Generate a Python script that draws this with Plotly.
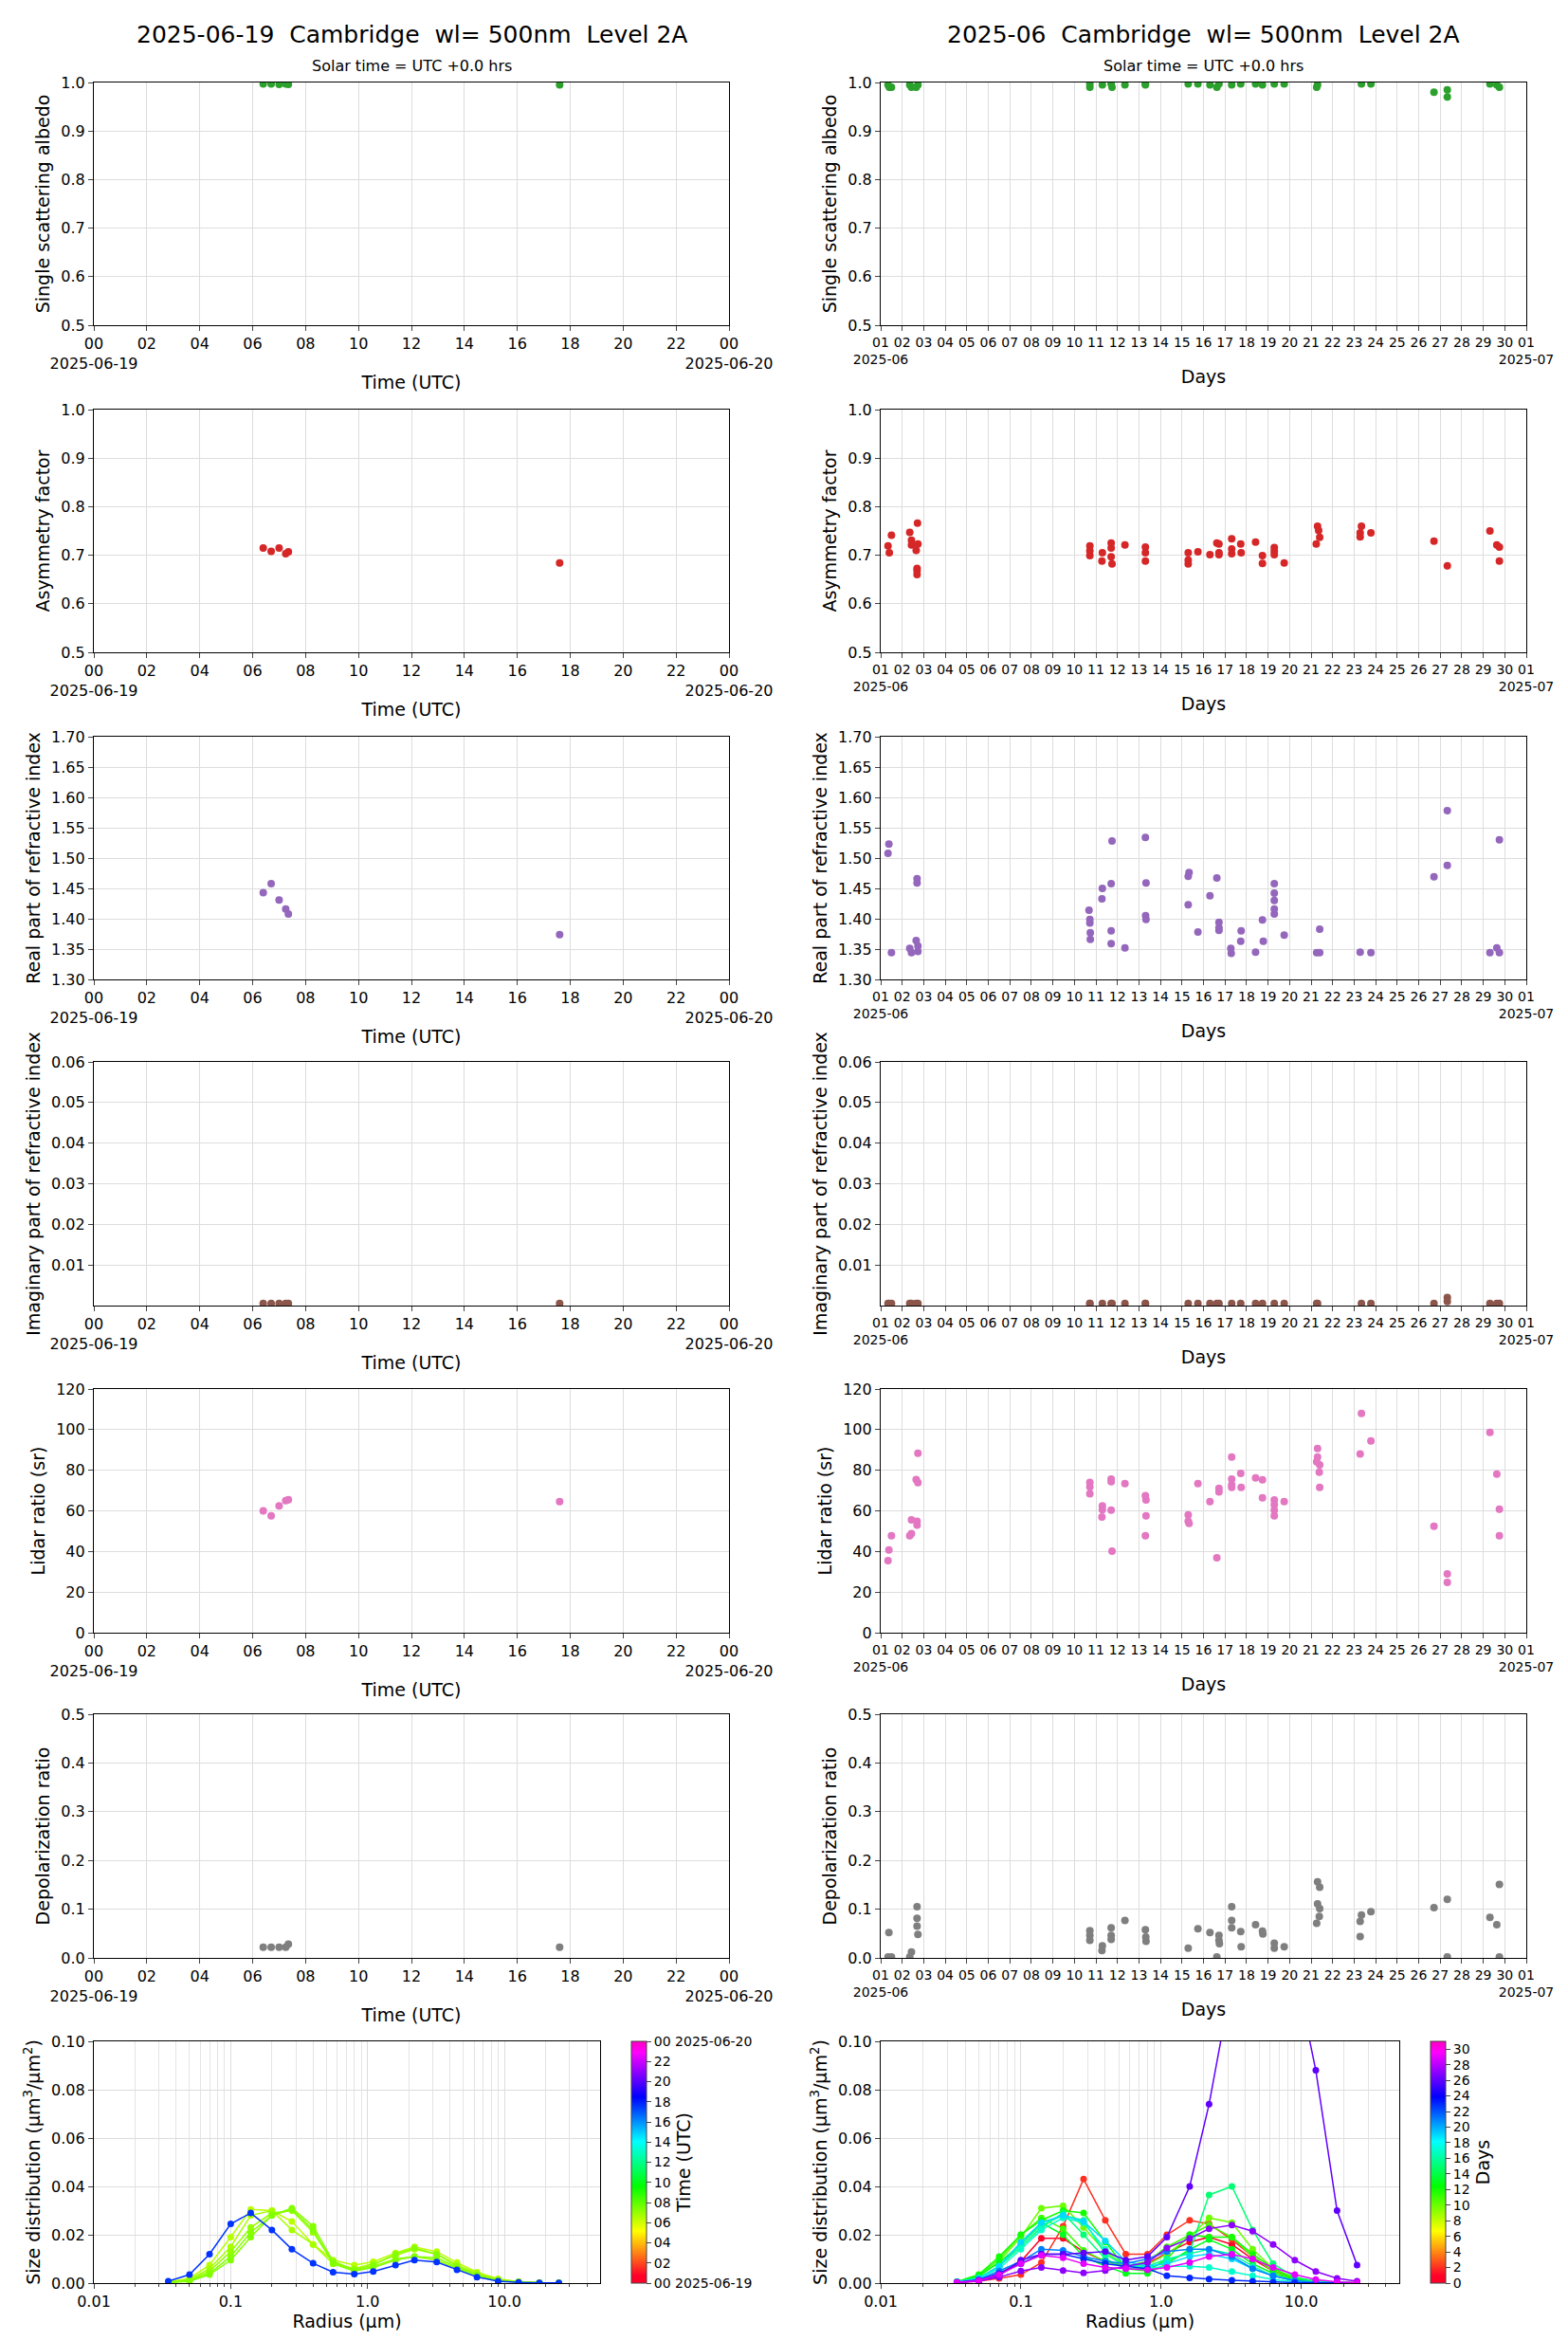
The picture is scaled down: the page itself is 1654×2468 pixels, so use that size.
import plotly.graph_objects as go
from plotly.subplots import make_subplots
from plotly.colors import sample_colorscale
import pandas as pd

W, H = 1654, 2468

# ---------------- data: single day (2025-06-19), hours UTC ----------------
L_hours = [6.4, 6.7, 7.0, 7.25, 7.35, 17.6]
L_albedo = [0.997, 0.997, 0.996, 0.997, 0.996, 0.995]
L_asym = [0.715, 0.708, 0.715, 0.703, 0.707, 0.684]
L_real = [1.443, 1.458, 1.431, 1.416, 1.408, 1.374]
L_imag = [0.0005, 0.0005, 0.0005, 0.0005, 0.0005, 0.0005]
L_lidar = [60.0, 57.5, 62.5, 65.0, 65.5, 64.5]
L_depol = [0.022, 0.022, 0.022, 0.022, 0.028, 0.022]

# ---------------- data: month (2025-06), fractional day of month ----------------
A_days = [1.34, 1.40, 1.50, 2.35, 2.43, 2.65, 2.73, 10.72, 10.72, 11.30, 11.71, 11.75, 12.35, 13.30, 13.30,
          15.29, 15.74, 16.30, 16.62, 16.72, 17.31, 17.73, 18.42, 18.74, 19.29, 19.75, 21.30, 21.26, 23.34,
          23.78, 26.71, 27.33, 27.33, 29.31, 29.63, 29.75]
A_albedo = [0.995, 0.99, 0.99, 0.995, 0.99, 0.99, 0.995, 0.99, 0.997, 0.995, 0.997, 0.99, 0.995, 0.995, 0.997,
            0.997, 0.997, 0.995, 0.99, 0.997, 0.995, 0.997, 0.997, 0.995, 0.997, 0.997, 0.995, 0.99, 0.997,
            0.997, 0.98, 0.985, 0.97, 0.997, 0.995, 0.99]
A_imag = [0.0005, 0.0005, 0.0005, 0.0005, 0.0005, 0.0005, 0.0005, 0.0005, 0.0005, 0.0005, 0.0005, 0.0005,
          0.0005, 0.0005, 0.0005, 0.0005, 0.0005, 0.0005, 0.0005, 0.0005, 0.0005, 0.0005, 0.0005, 0.0005,
          0.0005, 0.0005, 0.0005, 0.0005, 0.0005, 0.0005, 0.0005, 0.002, 0.001, 0.0005, 0.0005, 0.0005]

G_days = [1.34, 1.40, 1.50, 2.35, 2.43, 2.43, 2.65, 2.73, 2.71, 2.69, 2.69, 2.69, 10.72, 10.72, 10.72, 11.30,
          11.28, 11.71, 11.71, 11.71, 11.75, 12.35, 13.30, 13.30, 13.30, 15.29, 15.29, 15.29, 15.74, 16.30,
          16.62, 16.72, 16.72, 16.72, 17.31, 17.31, 17.31, 17.73, 17.75, 18.42, 18.74, 18.74, 19.29, 19.29,
          19.29, 19.75, 21.30, 21.35, 21.40, 21.24, 23.34, 23.28, 23.28, 23.78, 26.71, 27.33, 29.31, 29.63,
          29.75, 29.75]
G_asym = [0.719, 0.705, 0.741, 0.747, 0.731, 0.721, 0.710, 0.723, 0.766, 0.673, 0.668, 0.660, 0.719, 0.709,
          0.699, 0.705, 0.688, 0.725, 0.715, 0.697, 0.682, 0.721, 0.717, 0.705, 0.688, 0.705, 0.690, 0.682,
          0.707, 0.701, 0.725, 0.723, 0.705, 0.701, 0.734, 0.713, 0.703, 0.723, 0.705, 0.727, 0.699, 0.683,
          0.716, 0.708, 0.701, 0.684, 0.760, 0.751, 0.737, 0.723, 0.760, 0.746, 0.738, 0.746, 0.729, 0.678,
          0.750, 0.721, 0.717, 0.688]

R_days = [1.34, 1.38, 1.50, 2.35, 2.43, 2.65, 2.73, 2.73, 2.69, 2.69, 10.68, 10.72, 10.72, 10.74, 10.74,
          11.30, 11.28, 11.71, 11.75, 11.71, 11.71, 12.35, 13.30, 13.33, 13.31, 13.33, 15.29, 15.33, 15.29,
          15.74, 16.30, 16.62, 16.72, 16.72, 16.72, 17.27, 17.29, 17.75, 17.73, 18.42, 18.74, 18.78, 19.29,
          19.29, 19.29, 19.29, 19.29, 19.75, 21.40, 21.26, 21.40, 23.28, 23.78, 26.71, 27.33, 27.33, 29.31,
          29.63, 29.75, 29.75]
R_real = [1.508, 1.523, 1.344, 1.351, 1.344, 1.364, 1.355, 1.346, 1.466, 1.459, 1.414, 1.399, 1.393, 1.377,
          1.366, 1.450, 1.433, 1.458, 1.528, 1.380, 1.359, 1.352, 1.534, 1.459, 1.405, 1.399, 1.470, 1.476,
          1.423, 1.378, 1.438, 1.467, 1.394, 1.385, 1.381, 1.351, 1.343, 1.380, 1.363, 1.345, 1.398, 1.363,
          1.458, 1.442, 1.430, 1.416, 1.408, 1.373, 1.383, 1.344, 1.344, 1.345, 1.344, 1.469, 1.488, 1.578,
          1.344, 1.352, 1.344, 1.530]

S_days = [1.34, 1.38, 1.50, 2.35, 2.43, 2.43, 2.69, 2.69, 2.65, 2.73, 2.73, 10.72, 10.72, 10.72, 11.30, 11.30,
          11.28, 11.71, 11.71, 11.71, 11.75, 12.35, 13.30, 13.33, 13.33, 13.30, 15.29, 15.29, 15.33, 15.74,
          16.30, 16.62, 16.72, 16.72, 17.31, 17.31, 17.31, 17.31, 17.73, 17.75, 18.42, 18.74, 18.74, 19.29,
          19.29, 19.29, 19.29, 19.75, 21.30, 21.30, 21.26, 21.40, 21.38, 21.40, 23.28, 23.34, 23.78, 26.71,
          27.33, 27.33, 29.31, 29.63, 29.75, 29.75]
S_lidar = [35.5, 40.7, 47.7, 47.7, 48.8, 55.6, 54.9, 53.0, 75.4, 73.9, 88.4, 74.0, 71.8, 68.4, 62.5, 60.6,
           57.0, 75.7, 74.3, 60.3, 40.2, 73.4, 67.5, 65.4, 57.5, 47.7, 58.0, 54.9, 53.8, 73.4, 64.5, 36.9,
           71.1, 69.3, 86.5, 75.7, 72.8, 71.5, 78.5, 71.5, 76.2, 75.3, 66.4, 65.4, 63.0, 60.3, 57.5, 64.5,
           90.7, 86.5, 84.2, 82.6, 79.0, 71.5, 88.0, 108.0, 94.4, 52.4, 29.0, 24.8, 98.6, 78.1, 60.8, 47.7]

D_days = [1.38, 1.34, 1.50, 2.35, 2.43, 2.69, 2.69, 2.69, 2.73, 10.72, 10.72, 10.72, 11.30, 11.28, 11.71,
          11.71, 11.71, 12.35, 13.30, 13.32, 13.33, 15.29, 15.74, 16.30, 16.62, 16.72, 16.72, 16.74, 17.31,
          17.31, 17.31, 17.73, 17.75, 18.42, 18.74, 18.76, 19.29, 19.29, 19.75, 21.30, 21.40, 21.30, 21.40,
          21.38, 21.26, 23.34, 23.28, 23.28, 23.78, 26.71, 27.33, 27.33, 29.31, 29.63, 29.75, 29.75]
D_depol = [0.052, 0.002, 0.002, 0.002, 0.012, 0.105, 0.081, 0.065, 0.048, 0.056, 0.046, 0.036, 0.025, 0.015,
           0.062, 0.046, 0.038, 0.077, 0.058, 0.043, 0.034, 0.020, 0.060, 0.052, 0.002, 0.046, 0.036, 0.029,
           0.105, 0.077, 0.062, 0.054, 0.023, 0.068, 0.055, 0.049, 0.030, 0.020, 0.023, 0.156, 0.145, 0.111,
           0.101, 0.085, 0.071, 0.088, 0.075, 0.044, 0.095, 0.103, 0.120, 0.002, 0.083, 0.068, 0.151, 0.002]

# ---------------- size distributions ----------------
radius = [0.035, 0.05, 0.07, 0.1, 0.14, 0.2, 0.28, 0.4, 0.56, 0.8, 1.1, 1.6, 2.2, 3.2, 4.5, 6.3, 9.0,
          12.7, 18.0, 25.0]
L_sd_hours = [6.4, 6.7, 7.0, 7.25, 7.35, 17.6]
L_sd = [
    [0.0005, 0.002, 0.0075, 0.019, 0.0305, 0.030, 0.0255, 0.016, 0.0095, 0.0075, 0.0088, 0.0125, 0.015, 0.013, 0.0085, 0.0045, 0.0018, 0.0006, 0.0002, 0.0001],
    [0.0004, 0.0015, 0.006, 0.015, 0.028, 0.030, 0.022, 0.016, 0.008, 0.006, 0.008, 0.0115, 0.014, 0.012, 0.0075, 0.004, 0.0015, 0.0005, 0.0002, 0.0001],
    [0.0003, 0.0012, 0.005, 0.013, 0.023, 0.029, 0.030, 0.021, 0.0085, 0.005, 0.007, 0.010, 0.011, 0.0095, 0.006, 0.003, 0.001, 0.0004, 0.0001, 0.0001],
    [0.0003, 0.001, 0.004, 0.011, 0.021, 0.028, 0.031, 0.0235, 0.009, 0.0055, 0.0075, 0.012, 0.0145, 0.012, 0.007, 0.0035, 0.0013, 0.0005, 0.0002, 0.0001],
    [0.0002, 0.0008, 0.0035, 0.0095, 0.019, 0.028, 0.0305, 0.022, 0.008, 0.005, 0.0065, 0.0095, 0.011, 0.0105, 0.0065, 0.003, 0.001, 0.0004, 0.0001, 0.0001],
    [0.0008, 0.0035, 0.012, 0.0245, 0.029, 0.022, 0.014, 0.0082, 0.0045, 0.0037, 0.0048, 0.0075, 0.0095, 0.0087, 0.0055, 0.0025, 0.0008, 0.0003, 0.0001, 0.0001],
]
R_sd_days = [1, 2, 10, 11, 12, 13, 15, 16, 17, 19, 21, 23, 26, 27, 29]
R_sd = [
    [0.0003, 0.001, 0.004, 0.009, 0.0185, 0.0185, 0.013, 0.009, 0.007, 0.008, 0.0125, 0.017, 0.019, 0.016, 0.010, 0.005, 0.002, 0.0008, 0.0003, 0.0001],
    [0.0003, 0.0008, 0.002, 0.0035, 0.0085, 0.0235, 0.043, 0.026, 0.012, 0.012, 0.020, 0.026, 0.0245, 0.018, 0.011, 0.005, 0.002, 0.0007, 0.0003, 0.0001],
    [0.0005, 0.0025, 0.009, 0.019, 0.031, 0.032, 0.023, 0.013, 0.007, 0.0075, 0.012, 0.019, 0.027, 0.025, 0.014, 0.006, 0.002, 0.0007, 0.0002, 0.0001],
    [0.0005, 0.003, 0.010, 0.020, 0.027, 0.0225, 0.0135, 0.009, 0.007, 0.009, 0.015, 0.020, 0.024, 0.019, 0.011, 0.005, 0.0015, 0.0005, 0.0002, 0.0001],
    [0.0006, 0.0035, 0.011, 0.020, 0.026, 0.030, 0.029, 0.017, 0.006, 0.005, 0.010, 0.020, 0.019, 0.019, 0.012, 0.006, 0.002, 0.0006, 0.0002, 0.0001],
    [0.0005, 0.003, 0.0085, 0.016, 0.025, 0.020, 0.011, 0.007, 0.004, 0.004, 0.008, 0.014, 0.018, 0.014, 0.008, 0.004, 0.0015, 0.0005, 0.0002, 0.0001],
    [0.0005, 0.002, 0.007, 0.015, 0.023, 0.029, 0.020, 0.010, 0.006, 0.006, 0.009, 0.013, 0.0365, 0.040, 0.022, 0.008, 0.0025, 0.0008, 0.0002, 0.0001],
    [0.0004, 0.002, 0.007, 0.016, 0.024, 0.028, 0.026, 0.012, 0.007, 0.007, 0.010, 0.012, 0.014, 0.012, 0.007, 0.003, 0.001, 0.0004, 0.0001, 0.0001],
    [0.0004, 0.002, 0.006, 0.014, 0.022, 0.027, 0.025, 0.014, 0.008, 0.006, 0.007, 0.007, 0.0065, 0.0048, 0.003, 0.0015, 0.0006, 0.0002, 0.0001, 0.0001],
    [0.0004, 0.002, 0.007, 0.017, 0.025, 0.028, 0.0255, 0.0175, 0.009, 0.007, 0.008, 0.011, 0.012, 0.010, 0.006, 0.003, 0.001, 0.0003, 0.0001, 0.0001],
    [0.0004, 0.0015, 0.005, 0.009, 0.014, 0.0135, 0.011, 0.009, 0.008, 0.010, 0.013, 0.014, 0.014, 0.011, 0.006, 0.003, 0.001, 0.0003, 0.0001, 0.0001],
    [0.0003, 0.0012, 0.004, 0.008, 0.012, 0.012, 0.010, 0.008, 0.007, 0.006, 0.003, 0.0022, 0.0017, 0.0012, 0.0008, 0.0004, 0.0002, 0.0001, 0.0001, 0.0001],
    [0.0003, 0.001, 0.003, 0.0095, 0.012, 0.012, 0.0125, 0.013, 0.0095, 0.011, 0.019, 0.040, 0.074, 0.125, 0.160, 0.150, 0.130, 0.088, 0.030, 0.0075],
    [0.0002, 0.0008, 0.0025, 0.005, 0.0065, 0.0052, 0.0042, 0.0052, 0.007, 0.0085, 0.0145, 0.0185, 0.0225, 0.024, 0.0215, 0.016, 0.0095, 0.0048, 0.002, 0.0008],
    [0.0003, 0.001, 0.0035, 0.008, 0.0115, 0.0105, 0.008, 0.0065, 0.006, 0.0055, 0.0065, 0.0085, 0.011, 0.012, 0.0100, 0.0065, 0.0035, 0.0015, 0.0005, 0.0002],
]
minor_radius_ticks = [0.02, 0.03, 0.04, 0.05, 0.06, 0.07, 0.08, 0.09, 0.2, 0.3, 0.4, 0.5, 0.6, 0.7, 0.8, 0.9,
                      2, 3, 4, 5, 6, 7, 8, 9, 20, 30, 40]

FONT = "DejaVu Sans"
gist_rainbow = [[0, 'rgb(255,0,41)'], [0.03, 'rgb(255,0,41)'], [0.215, 'rgb(255,255,0)'],
                [0.4, 'rgb(0,255,0)'], [0.586, 'rgb(0,255,255)'], [0.77, 'rgb(0,0,255)'],
                [0.954, 'rgb(255,0,255)'], [1, 'rgb(255,0,191)']]

def ltime(h):
    return [pd.Timestamp('2025-06-19') + pd.Timedelta(hours=x) for x in h]

def mtime(d):
    return [pd.Timestamp('2025-06-01') + pd.Timedelta(days=x - 1) for x in d]

fig = make_subplots(rows=7, cols=2)

def ax(r, c):
    i = (r - 1) * 2 + c
    return ('' if i == 1 else str(i))

rows_y = [(79, 335), (424, 680), (769, 1025), (1112, 1369), (1457, 1714), (1800, 2057), (2145, 2400)]

def sc(x, y, color, r, c):
    fig.add_trace(go.Scatter(x=x, y=y, mode='markers', marker=dict(color=color, size=8),
                             showlegend=False, cliponaxis=True), row=r, col=c)

sc(ltime(L_hours), L_albedo, '#2ca02c', 1, 1)
sc(ltime(L_hours), L_asym, '#d62728', 2, 1)
sc(ltime(L_hours), L_real, '#9467bd', 3, 1)
sc(ltime(L_hours), L_imag, '#8c564b', 4, 1)
sc(ltime(L_hours), L_lidar, '#e377c2', 5, 1)
sc(ltime(L_hours), L_depol, '#7f7f7f', 6, 1)
sc(mtime(A_days), A_albedo, '#2ca02c', 1, 2)
sc(mtime(G_days), G_asym, '#d62728', 2, 2)
sc(mtime(R_days), R_real, '#9467bd', 3, 2)
sc(mtime(A_days), A_imag, '#8c564b', 4, 2)
sc(mtime(S_days), S_lidar, '#e377c2', 5, 2)
sc(mtime(D_days), D_depol, '#7f7f7f', 6, 2)

lcols = sample_colorscale(gist_rainbow, [h / 24 for h in L_sd_hours])
for vals, col in zip(L_sd, lcols):
    fig.add_trace(go.Scatter(x=radius, y=vals, mode='lines+markers', line=dict(color=col, width=1.5),
                             marker=dict(color=col, size=7), showlegend=False), row=7, col=1)
rcols = sample_colorscale(gist_rainbow, [d / 31 for d in R_sd_days])
for vals, col in zip(R_sd, rcols):
    fig.add_trace(go.Scatter(x=radius, y=vals, mode='lines+markers', line=dict(color=col, width=1.5),
                             marker=dict(color=col, size=7), showlegend=False), row=7, col=2)

fig.add_trace(go.Scatter(x=[None], y=[None], mode='markers', showlegend=False,
                         marker=dict(color=[0], cmin=0, cmax=24, colorscale=gist_rainbow, showscale=True,
                                     colorbar=dict(x=658 / W, xanchor='left', xpad=0, ypad=0, thickness=16,
                                                   y=1 - 2400 / H, yanchor='bottom', len=255 / H,
                                                   outlinewidth=1,
                                                   tickvals=list(range(0, 25, 2)),
                                                   ticktext=['00 2025-06-19'] + ['%02d' % h for h in range(2, 24, 2)] + ['00 2025-06-20'],
                                                   tickfont=dict(size=14, family=FONT), ticks='outside',
                                                   title=dict(text='Time (UTC)', side='right',
                                                              font=dict(size=19, family=FONT))))),
              row=7, col=1)
fig.add_trace(go.Scatter(x=[None], y=[None], mode='markers', showlegend=False,
                         marker=dict(color=[0], cmin=0, cmax=31, colorscale=gist_rainbow, showscale=True,
                                     colorbar=dict(x=1501 / W, xanchor='left', xpad=0, ypad=0, thickness=16,
                                                   y=1 - 2400 / H, yanchor='bottom', len=255 / H,
                                                   outlinewidth=1,
                                                   tickvals=list(range(0, 31, 2)),
                                                   tickfont=dict(size=14, family=FONT), ticks='outside',
                                                   title=dict(text='Days', side='right',
                                                              font=dict(size=19, family=FONT))))),
              row=7, col=2)

axstyle = dict(showline=True, linecolor='black', linewidth=1.2, mirror=True, ticks='outside',
               gridcolor='#dddddd', zeroline=False, automargin=False,
               tickfont=dict(size=16, family=FONT, color='black'))

ltv = [pd.Timestamp('2025-06-19') + pd.Timedelta(hours=h) for h in range(0, 25, 2)]
ltt = ['00<br>2025-06-19'] + ['%02d' % h for h in range(2, 24, 2)] + ['00<br>2025-06-20']
rtv = [pd.Timestamp('2025-06-01') + pd.Timedelta(days=d) for d in range(0, 31)]
rtt = ['01<br>2025-06'] + ['%02d' % d for d in range(2, 31)] + ['01<br>2025-07']

ylab = ['Single scattering albedo', 'Asymmetry factor', 'Real part of refractive index',
        'Imaginary part of refractive index', 'Lidar ratio (sr)', 'Depolarization ratio']
yrng = [(0.5, 1.0, 0.1, '.1f'), (0.5, 1.0, 0.1, '.1f'), (1.3, 1.7, 0.05, '.2f'),
        (0, 0.06, 0.01, '.2f'), (0, 120, 20, 'd'), (0, 0.5, 0.1, '.1f')]

lay = {}
for r in range(1, 8):
    y0, y1 = rows_y[r - 1]
    for c in (1, 2):
        k = ax(r, c)
        if r < 7:
            xd = [91 / W, 761 / W] if c == 1 else [921 / W, 1602 / W]
        else:
            xd = [91 / W, 625 / W] if c == 1 else [921 / W, 1468 / W]
        xa = dict(axstyle, domain=xd, tickangle=0)
        ya = dict(axstyle, domain=[1 - y1 / H, 1 - y0 / H])
        if r < 7:
            if c == 1:
                xa.update(range=[ltv[0], ltv[-1]], tickvals=ltv, ticktext=ltt,
                          title=dict(text='Time (UTC)', font=dict(size=19, family=FONT), standoff=4))
            else:
                xa.update(range=[rtv[0], rtv[-1]], tickvals=rtv, ticktext=rtt,
                          tickfont=dict(size=14, family=FONT, color='black'),
                          title=dict(text='Days', font=dict(size=19, family=FONT), standoff=4))
            lo, hi, st, fmt = yrng[r - 1]
            if r == 4:
                tv = [0.01, 0.02, 0.03, 0.04, 0.05, 0.06]
            else:
                tv = []
                v = lo
                while v <= hi + 1e-9:
                    tv.append(round(v, 3))
                    v += st
            ya.update(range=[lo, hi], tickvals=tv, tickformat=fmt,
                      title=dict(text=ylab[r - 1], font=dict(size=19, family=FONT), standoff=6))
        else:
            xa.update(type='log', range=[-2, 1.699], tickvals=[0.01, 0.1, 1, 10],
                      ticktext=['0.01', '0.1', '1.0', '10.0'],
                      minor=dict(showgrid=True, gridcolor='#e4e4e4', ticks='outside', ticklen=3,
                                 tickmode='array', tickvals=minor_radius_ticks),
                      title=dict(text='Radius (µm)', font=dict(size=19, family=FONT), standoff=4))
            ya.update(range=[0, 0.1], tickvals=[0, 0.02, 0.04, 0.06, 0.08, 0.1], tickformat='.2f',
                      title=dict(text='Size distribution (µm<sup>3</sup>/µm<sup>2</sup>)',
                                 font=dict(size=19, family=FONT), standoff=6))
        lay['xaxis' + k] = xa
        lay['yaxis' + k] = ya

fig.update_layout(**lay)
ann = dict(xref='paper', yref='paper', showarrow=False, xanchor='center', yanchor='middle')
fig.update_layout(width=W, height=H, margin=dict(l=0, r=0, t=0, b=0), plot_bgcolor='white',
                  paper_bgcolor='white', font=dict(family=FONT, color='black'),
                  annotations=[
                      dict(ann, text='2025-06-19  Cambridge  wl= 500nm  Level 2A', x=426 / W, y=1 - 28 / H,
                           font=dict(size=25, family=FONT)),
                      dict(ann, text='2025-06  Cambridge  wl= 500nm  Level 2A', x=1261 / W, y=1 - 28 / H,
                           font=dict(size=25, family=FONT)),
                      dict(ann, text='Solar time = UTC +0.0 hrs', x=426 / W, y=1 - 62 / H,
                           font=dict(size=16, family=FONT)),
                      dict(ann, text='Solar time = UTC +0.0 hrs', x=1261 / W, y=1 - 62 / H,
                           font=dict(size=16, family=FONT)),
                  ])
fig.write_html('out.html')
